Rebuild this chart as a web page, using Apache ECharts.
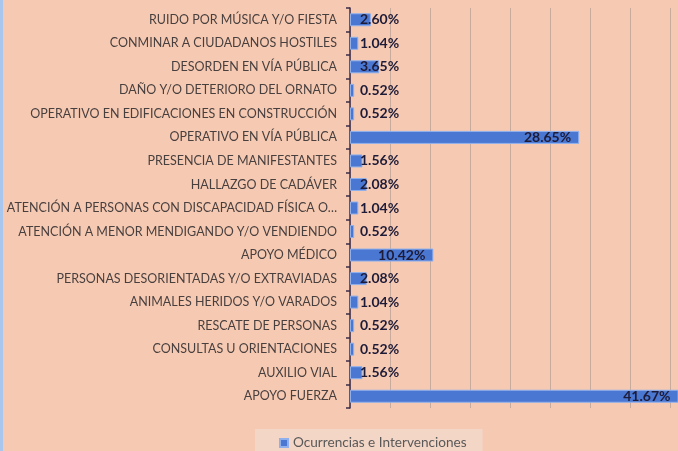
<!DOCTYPE html>
<html>
<head>
<meta charset="utf-8">
<script src="https://cdn.jsdelivr.net/npm/echarts@6/dist/echarts.min.js"></script>
<style>
  html, body { margin: 0; padding: 0; background: #f6cab2; }
  #chart { width: 678px; height: 451px; }
</style>
</head>
<body>
<div id="chart"></div>
<script>
// categorías (de arriba hacia abajo)
var categories = [
  'RUIDO POR MÚSICA Y/O FIESTA',
  'CONMINAR A CIUDADANOS HOSTILES',
  'DESORDEN EN VÍA PÚBLICA',
  'DAÑO Y/O DETERIORO DEL ORNATO',
  'OPERATIVO EN EDIFICACIONES EN CONSTRUCCIÓN',
  'OPERATIVO EN VÍA PÚBLICA',
  'PRESENCIA DE MANIFESTANTES',
  'HALLAZGO DE CADÁVER',
  'ATENCIÓN A PERSONAS CON DISCAPACIDAD FÍSICA O…',
  'ATENCIÓN A MENOR MENDIGANDO Y/O VENDIENDO',
  'APOYO MÉDICO',
  'PERSONAS DESORIENTADAS Y/O EXTRAVIADAS',
  'ANIMALES HERIDOS Y/O VARADOS',
  'RESCATE DE PERSONAS',
  'CONSULTAS U ORIENTACIONES',
  'AUXILIO VIAL',
  'APOYO FUERZA'
]
// porcentajes
var values = [2.60, 1.04, 3.65, 0.52, 0.52, 28.65, 1.56, 2.08, 1.04, 0.52, 10.42, 2.08, 1.04, 0.52, 0.52, 1.56, 41.67]
var seriesName = 'Ocurrencias e Intervenciones'

var chart = echarts.init(document.getElementById('chart'))

// etiquetas: dentro al final para barras largas, desde el eje para las cortas
var barData = values.map(function(v) {
  return {
    value: v,
    label: v > 5
      ? { position: 'insideRight', distance: 8 }
      : { position: 'insideLeft', distance: 10 }
  }
})

var option = {
  backgroundColor: '#f6cab2',
  animation: false,
  graphic: [{
    type: 'rect',
    shape: { x: 0, y: 0, width: 3, height: 451 },
    style: { fill: '#a9c7ee' },
    z: 10
  }],
  legend: {
    data: [seriesName],
    left: 255,
    top: 429,
    icon: 'rect',
    itemWidth: 8,
    itemHeight: 8,
    backgroundColor: '#f3d6c6',
    padding: [7, 16, 12, 24],
    textStyle: {
      color: '#595959',
      fontSize: 13.6,
      fontFamily: 'Lato'
    }
  },
  grid: {
    left: 350,
    right: 0,
    top: 8,
    bottom: 43,
    containLabel: false
  },
  xAxis: {
    type: 'value',
    min: 0,
    max: 41,
    interval: 5,
    axisLine: { show: false },
    axisTick: { show: false },
    axisLabel: { show: false },
    splitLine: {
      show: true,
      lineStyle: { color: '#c9ab9e', width: 1 }
    }
  },
  yAxis: {
    type: 'category',
    inverse: true,
    data: categories,
    axisLine: {
      show: true,
      lineStyle: { color: '#3b2b48', width: 1.5 }
    },
    axisTick: {
      show: true,
      length: 4,
      lineStyle: { color: '#3b2b48', width: 1.5 }
    },
    axisLabel: {
      margin: 13,
      color: '#483f3f',
      fontSize: 12.5,
      fontFamily: 'Lato'
    }
  },
  series: [{
    name: seriesName,
    type: 'bar',
    barWidth: 13,
    clip: true,
    data: barData,
    itemStyle: {
      color: '#4a77d2',
      borderColor: '#8fb0ec',
      borderWidth: 1
    },
    label: {
      show: true,
      color: '#1e1b38',
      fontSize: 14,
      fontWeight: 'bold',
      fontFamily: 'Lato',
      formatter: function(p) {
        return p.value.toFixed(2) + '%'
      }
    }
  }]
}

chart.setOption(option)
</script>
</body>
</html>
